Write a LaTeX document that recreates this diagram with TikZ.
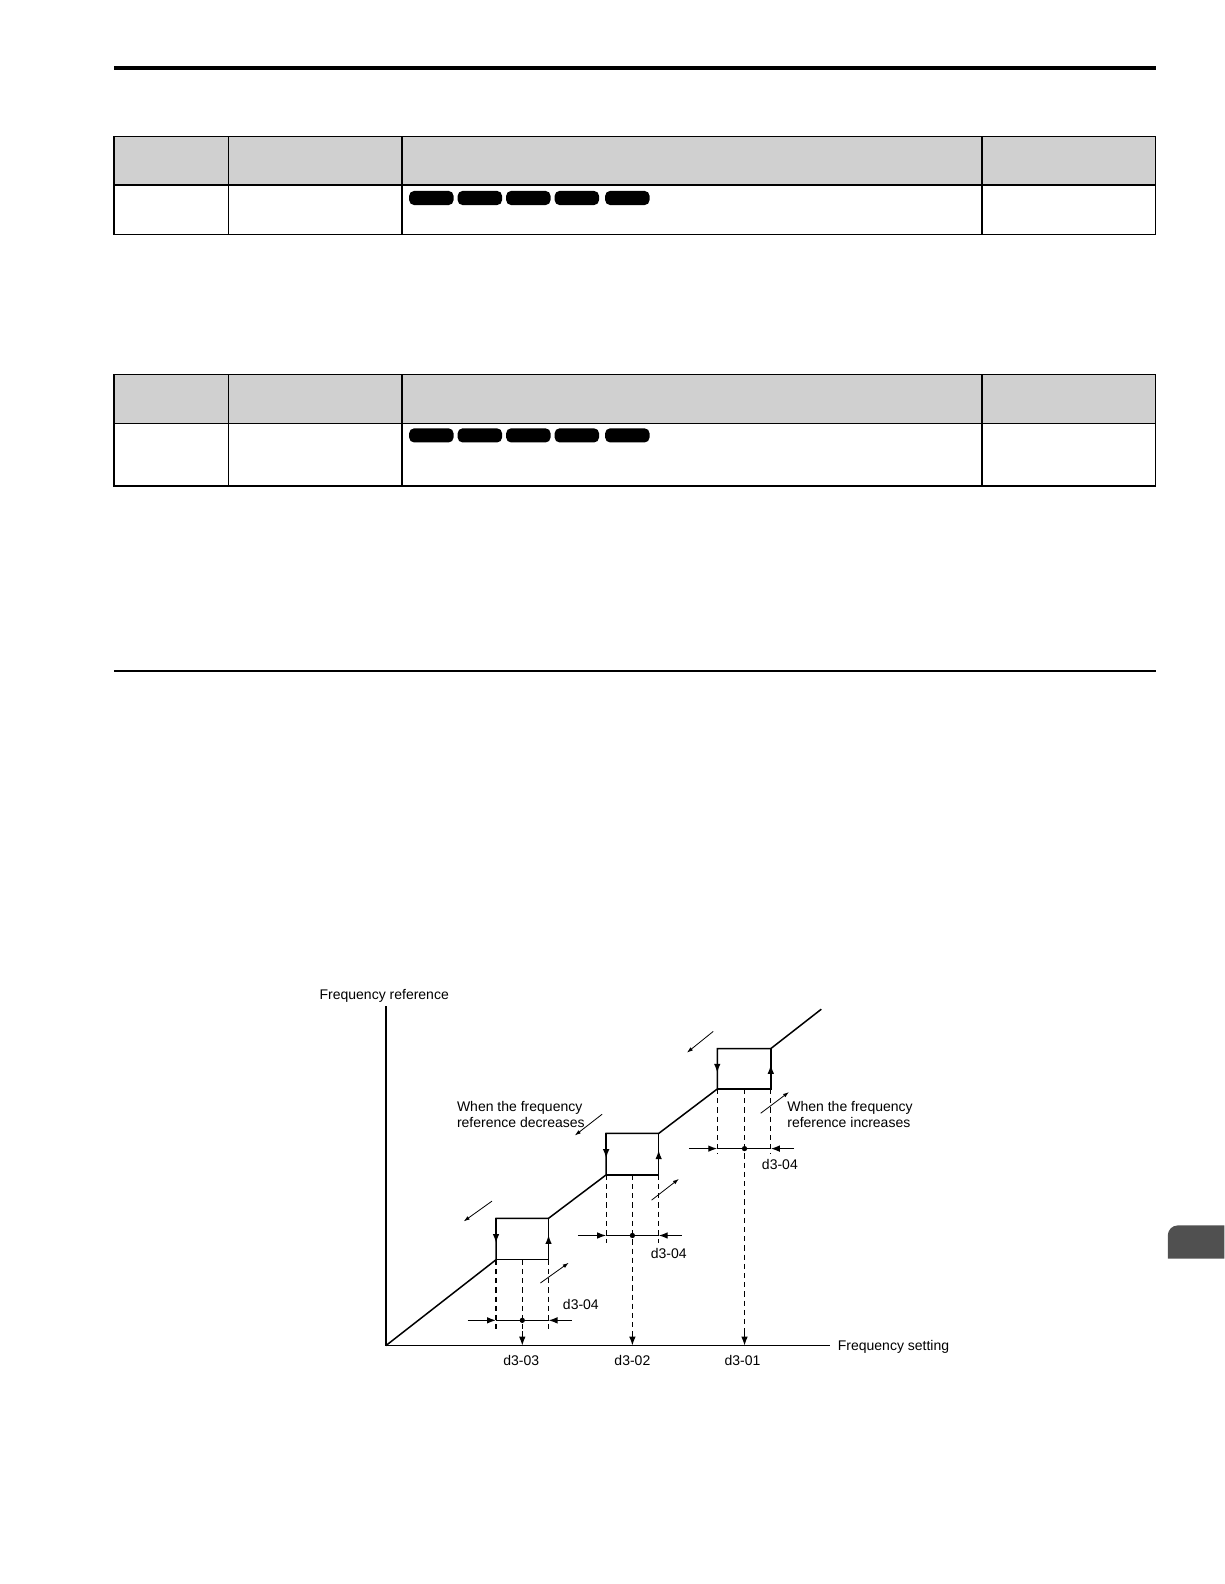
\documentclass[tikz,border=0pt]{standalone}
\usepackage{fontspec}
\setmainfont{Liberation Sans}
\usetikzlibrary{arrows.meta}
\definecolor{hdrgray}{HTML}{D0D0D0}
\definecolor{tabgray}{HTML}{505050}
\tikzset{
  tbl/.style={line width=0.7pt},
  pill/.style={fill=black, rounded corners=2.5pt},
  ax/.style={line width=0.75pt},
  curve/.style={line width=0.75pt},
  dsh/.style={line width=0.6pt, dash pattern=on 2.6pt off 2pt},
  arr/.style={-{Latex[length=4.5pt,width=3.3pt]}},
  small/.style={-{Latex[length=3pt,width=2pt]}, line width=0.4pt},
  lbl/.style={font=\fontsize{7}{8}\selectfont, inner sep=0pt},
}
\begin{document}
\begin{tikzpicture}[x=0.50495pt,y=-0.50495pt]
\useasboundingbox (0,0) rectangle (1212,1568);
% page rules
\fill (113,65) rectangle (1144,69);
\draw[line width=1pt] (113,664) -- (1144,664);
% table 1
\fill[hdrgray] (113,135) rectangle (1144,183);
\draw[tbl] (113,135) rectangle (1144,232);
\draw[tbl] (113,183) -- (1144,183);
\foreach \x in {226,398,972} \draw[tbl] (\x,135) -- (\x,232);
\foreach \x in {405,453,501,549,599} \fill[pill] (\x,189) rectangle ++(44,14);
% table 2
\fill[hdrgray] (113,371) rectangle (1144,419);
\draw[tbl] (113,371) rectangle (1144,481);
\draw[tbl] (113,419) -- (1144,419);
\foreach \x in {226,398,972} \draw[tbl] (\x,371) -- (\x,481);
\foreach \x in {405,453,501,549,599} \fill[pill] (\x,424) rectangle ++(44,14);
% side tab
\fill[tabgray] (1212,1246) -- (1156,1246) [rounded corners=5pt] -- (1156,1213) [sharp corners] -- (1212,1213) -- cycle;
% axes
\coordinate (O) at (382,1332);
\draw[ax] (382,996) -- (O) -- (822,1332);
\node[lbl, anchor=west] (ylab) at (316,986) {Frequency reference};
\node[lbl, anchor=west] (xlab) at (829,1333) {Frequency setting};
% hysteresis curve
\draw[curve] (O) -- (491,1247) -- (491,1206) -- (543,1206) -- (600,1163) -- (600,1122) -- (652,1122) -- (710,1078) -- (710,1038) -- (763,1038) -- (813,999);
\draw[curve] (491,1247) -- (543,1247) -- (543,1206);
\draw[curve] (600,1163) -- (652,1163) -- (652,1122);
\draw[curve] (710,1078) -- (763,1078) -- (763,1038);
% arrows on box sides
\foreach \l/\r/\t/\b in {491/543/1206/1247, 600/652/1122/1163, 710/763/1038/1078}{
  \draw[arr, curve] (\l,\t) -- (\l,{(\t+\b)/2+4});
  \draw[arr, curve] (\r,\b) -- (\r,{(\t+\b)/2-4});
}
% dashed lines and dimension arrows
\foreach \l/\m/\r/\b/\h/\e in {491/517/543/1247/1307/1318, 600/626/652/1163/1223/1230, 710/737/763/1078/1137/1142}{
  \draw[dsh] (\l,\b) -- (\l,\e);
  \draw[dsh] (\r,\b) -- (\r,\e);
  \draw[dsh] (\m,\b) -- (\m,1325);
  \draw[arr, line width=0.6pt] (\m,1318) -- (\m,1332);
  \draw[line width=0.6pt] (\l,\h) -- (\r,\h);
  \draw[arr, line width=0.6pt] ({\l-28},\h) -- (\l,\h);
  \draw[arr, line width=0.6pt] ({\r+23},\h) -- (\r,\h);
  \fill (\m,\h) circle (2.6);
}
% labels
\node[lbl] (l3) at (516,1347) {d3-03};
\node[lbl] (l2) at (626,1347) {d3-02};
\node[lbl] (l1) at (735,1347) {d3-01};
\node[lbl] (w1) at (575,1291) {d3-04};
\node[lbl] (w2) at (662,1241) {d3-04};
\node[lbl] (w3) at (772,1153) {d3-04};
% small direction arrows
\draw[small] (487,1189) -- (459,1209);
\draw[small] (535,1270) -- (563,1250);
\draw[small] (596,1103) -- (569,1124);
\draw[small] (645,1188) -- (672,1167);
\draw[small] (706,1021) -- (680,1042);
\draw[small] (753,1102) -- (781,1081);
% notes
\node[lbl, anchor=west, align=left] (dec) at (452,1103) {When the frequency\\reference decreases};
\node[lbl, anchor=west, align=left] (inc) at (779,1103) {When the frequency\\reference increases};
\end{tikzpicture}
\end{document}
